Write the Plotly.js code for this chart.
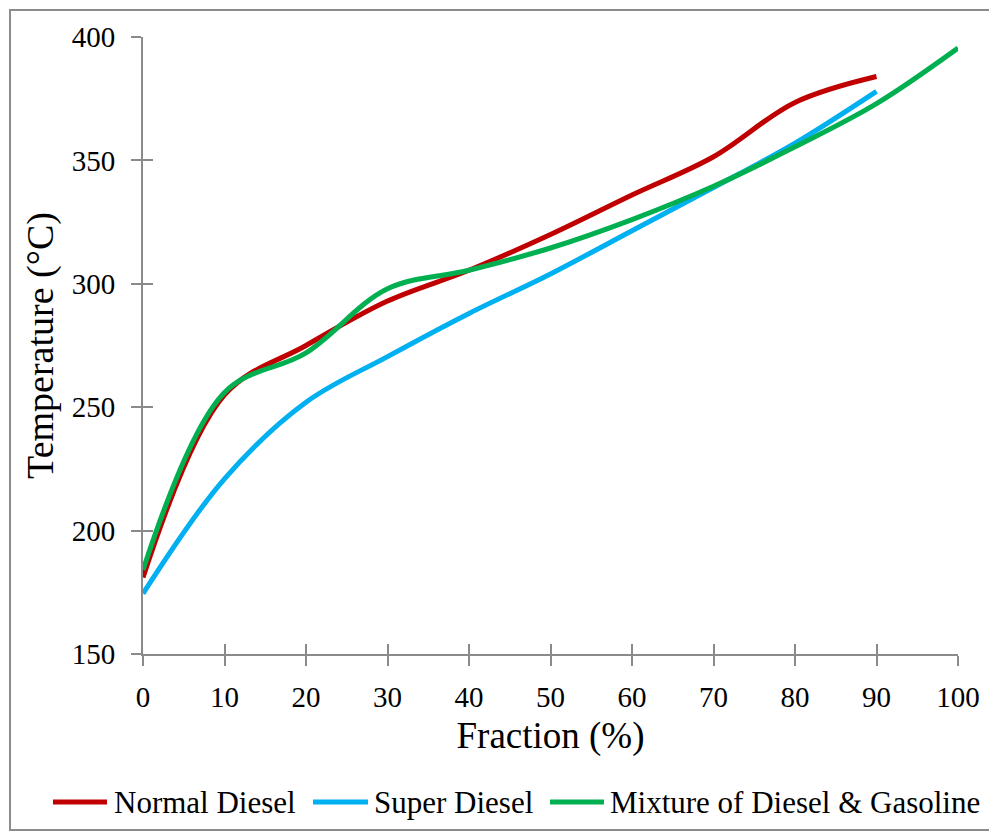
<!DOCTYPE html>
<html>
<head>
<meta charset="utf-8">
<script src="https://cdn.plot.ly/plotly-3.0.1.min.js"></script>
<style>
  html, body { margin: 0; padding: 0; background: #fff; font-family: 'Liberation Serif', serif; }
  #frame { position: absolute; left: 9px; top: 9px; width: 1000px; height: 822px; border: 2px solid #8c8c8c; box-sizing: border-box; }
  #chart { position: absolute; left: 0; top: 0; width: 989px; height: 834px; }
  #chart text { font-family: 'Liberation Serif', serif !important; }
</style>
</head>
<body>
<div id="frame"></div>
<div id="chart"></div>
<script>
const fractionA = [0, 10, 20, 30, 40, 50, 60, 70, 80, 90];
const fractionB = [0, 10, 20, 30, 40, 50, 60, 70, 80, 90, 100];
const normalDiesel = [181, 255, 275, 293, 305.5, 320, 336, 351.5, 373.5, 384];
const superDiesel = [174.5, 221, 252, 270.5, 288, 304, 321.5, 339, 357, 378];
const mixture = [184, 256, 272, 298, 305.5, 314.5, 326, 339.5, 355.5, 373, 395.5];
const seriesNames = ["Normal Diesel", "Super Diesel", "Mixture of Diesel & Gasoline"];
const seriesColors = ["#C00000", "#00B0F0", "#00B050"];
const xTicks = [0, 10, 20, 30, 40, 50, 60, 70, 80, 90, 100];
const yTicks = [150, 200, 250, 300, 350, 400];

const serifFamily = "Liberation Serif";
const W = 989, H = 834;
const M = { l: 143, r: 31, t: 37, b: 180 };
const pw = W - M.l - M.r, ph = H - M.t - M.b;
const px2x = p => (p - M.l) / pw;
const py2y = p => (H - M.b - p) / ph;

const mkTrace = (x, y, i) => ({
  x: x, y: y, name: seriesNames[i], type: "scatter", mode: "lines",
  line: { color: seriesColors[i], width: 5, shape: "spline", smoothing: 1 },
  cliponaxis: false, showlegend: false
});

const traces = [
  mkTrace(fractionA, normalDiesel, 0),
  mkTrace(fractionA, superDiesel, 1),
  mkTrace(fractionB, mixture, 2)
];

// legend (layout positions in pixels)
const legendLine = [[53, 107], [313, 368], [550, 604]];
const legendText = [112, 372, 608];
const legendY = 802;
const shapes = legendLine.map((l, i) => ({
  type: "line", xref: "paper", yref: "paper",
  x0: px2x(l[0]), x1: px2x(l[1]), y0: py2y(legendY), y1: py2y(legendY),
  line: { color: seriesColors[i], width: 5 }
}));
const annotations = legendText.map((t, i) => ({
  xref: "paper", yref: "paper", x: px2x(t), y: py2y(legendY),
  xanchor: "left", yanchor: "middle", showarrow: false,
  text: seriesNames[i], font: { family: serifFamily, size: 31, color: "#000" }
}));

const axisCommon = {
  showgrid: false, zeroline: false,
  showline: true, linecolor: "#8a8a8a", linewidth: 2,
  ticks: "outside", ticklen: 10, tickwidth: 2, tickcolor: "#8a8a8a",
  tickfont: { family: serifFamily, size: 29, color: "#000" }
};

const layout = {
  width: W, height: H,
  margin: M,
  paper_bgcolor: "rgba(0,0,0,0)",
  plot_bgcolor: "rgba(0,0,0,0)",
  showlegend: false,
  shapes: shapes,
  annotations: annotations,
  xaxis: Object.assign({}, axisCommon, {
    range: [0, 100], tickvals: xTicks, ticktext: xTicks.map(String),
    ticklabelstandoff: 6,
    title: { text: "Fraction (%)", font: { family: serifFamily, size: 37, color: "#000" }, standoff: 10 }
  }),
  yaxis: Object.assign({}, axisCommon, {
    range: [150, 400], tickvals: yTicks, ticktext: yTicks.map(String),
    ticklabelstandoff: 10,
    title: { text: "Temperature (°C)", font: { family: serifFamily, size: 38, color: "#000" }, standoff: 6 }
  }),
  xaxis2: {
    overlaying: "x", range: [0, 100], tickvals: xTicks, showticklabels: false,
    ticks: "inside", ticklen: 10, tickwidth: 2, tickcolor: "#8a8a8a",
    showgrid: false, zeroline: false, showline: false
  },
  yaxis2: {
    overlaying: "y", range: [150, 400], tickvals: yTicks, showticklabels: false,
    ticks: "inside", ticklen: 10, tickwidth: 2, tickcolor: "#8a8a8a",
    showgrid: false, zeroline: false, showline: false
  }
};

traces.push({ x: [0], y: [150], xaxis: "x2", yaxis: "y2", type: "scatter", mode: "markers",
  marker: { opacity: 0 }, showlegend: false, hoverinfo: "skip" });

function draw() {
  Plotly.newPlot("chart", traces, layout, { displayModeBar: false });
}
let drawn = false;
function drawOnce() { if (!drawn) { drawn = true; draw(); } }
if (document.fonts && document.fonts.load) {
  Promise.all([
    document.fonts.load('29px "Liberation Serif"'),
    document.fonts.load('37px "Liberation Serif"')
  ]).then(drawOnce, drawOnce);
  setTimeout(drawOnce, 1500);
} else {
  drawOnce();
}
</script>
</body>
</html>
